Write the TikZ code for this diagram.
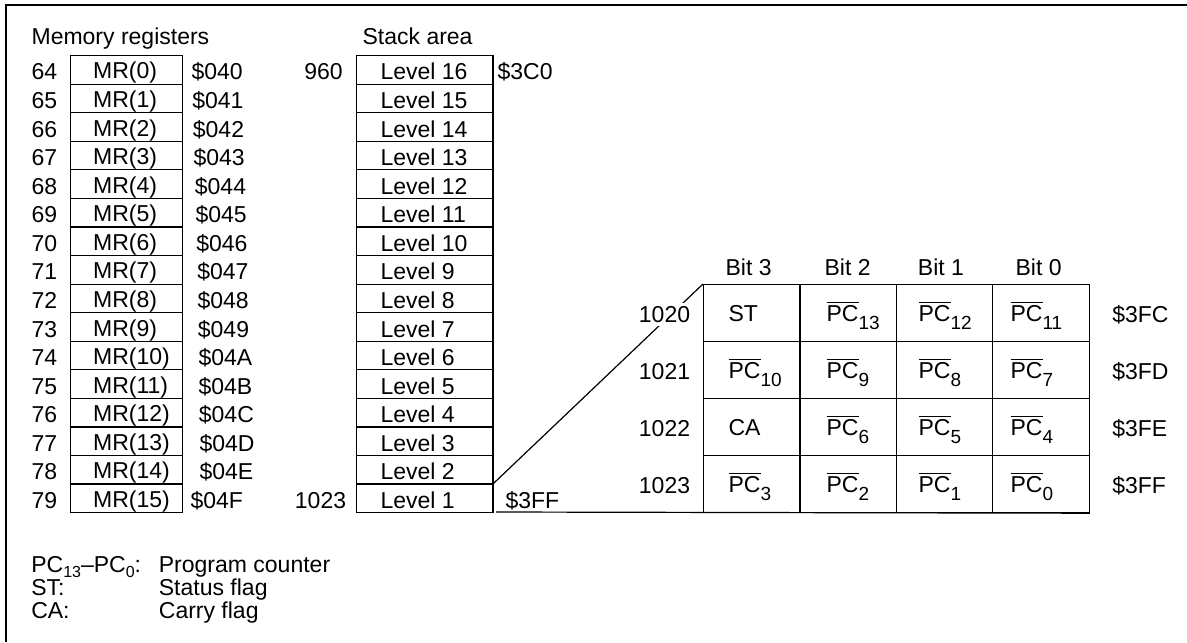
\documentclass[tikz,border=0pt]{standalone}
\usepackage{fontspec}
\setmainfont{Liberation Sans}
\newcommand\pcb[1]{$\overline{\mbox{PC}}$\raisebox{-4pt}{\fontsize{9.5}{10}\selectfont #1}}
\newcommand\lsub[1]{\raisebox{-2.5pt}{\fontsize{8}{9}\selectfont #1}}
\begin{document}
\begin{tikzpicture}[x=0.5pt,y=-0.5pt, line width=0.6pt,
  lbl/.style={inner sep=0pt, anchor=base west, font=\fontsize{11.5}{13}\selectfont},
  lblr/.style={lbl, anchor=base east},
  tlbl/.style={inner sep=0pt, anchor=base west, font=\fontsize{11.5}{13}\selectfont},
  tlblr/.style={tlbl, anchor=base east, fill=white, inner sep=1.5pt},
  rowbox/.style={draw, inner sep=0pt, anchor=north west, minimum height=14.28pt},
  cellbox/.style={draw, inner sep=0pt, anchor=north west, minimum width=48.2pt, minimum height=28.5pt}]
\useasboundingbox (0,0) rectangle (1187,642);
\draw (6,642) -- (6,5) -- (1187,5);

% headers
\node[lbl] (hmr) at (31,45) {Memory registers};
\node[lbl] (hst) at (362,45) {Stack area};

% memory registers
\foreach \i/\h/\hx in {0/0/191,1/1/191.7,2/2/192.3,3/3/193,4/4/194.3,5/5/195,6/6/195.7,7/7/196.7,8/8/197,9/9/197.3,10/A/198,11/B/198,12/C/198.3,13/D/199,14/E/199,15/F/190}{
  \pgfmathsetmacro\t{55+28.5625*\i}
  \pgfmathtruncatemacro\n{64+\i}
  \node[rowbox, minimum width=56pt] (mr\i) at (69.5,\t) {};
  \node[lbl] (mrn\i) at (31,\t+25) {\n};
  \node[lbl] (mrt\i) at (92.5,\t+24) {MR(\i)};
  \node[lbl] (mrh\i) at (\hx,\t+25) {\$04\h};
}

% stack area
\foreach \i in {0,...,15}{
  \pgfmathsetmacro\t{55+28.5625*\i}
  \pgfmathtruncatemacro\l{16-\i}
  \node[rowbox, minimum width=68.3pt] (st\i) at (355.7,\t) {};
  \node[lbl] (stt\i) at (380,\t+25) {Level \l};
}
\node[lblr] (sa960) at (343.3,80) {960};
\node[lbl] (sh3c0) at (497,80) {\$3C0};
\node[lblr] (sa1023) at (346.7,508) {1023};
\node[lbl] (sh3ff) at (505,508) {\$3FF};

% table cells
\foreach \r in {0,...,3}{
  \foreach \c in {0,...,3}{
    \node[cellbox] (c\r\c) at (703+96.4*\c,284+57*\r) {};
  }
}
\node[lbl] (b3) at (725,275) {Bit 3};
\node[lbl] (b2) at (824,275) {Bit 2};
\node[lbl] (b1) at (917.3,275) {Bit 1};
\node[lbl] (b0) at (1015,275) {Bit 0};

% connectors
\draw (st15.north east) -- (c00.north west);
\coordinate (bl) at (496,512);
\draw (bl) -- (c33.south east);

\foreach \r/\a/\h in {0/1020/3FC,1/1021/3FD,2/1022/3FE,3/1023/3FF}{
  \node[tlblr] (ra\r) at (693.7,322.5+57*\r) {\a};
  \node[tlbl] (rh\r) at (1111.7,322+57*\r) {\$\h};
}

\node[tlbl] (t00) at (728,321.7) {ST};
\node[tlbl] (t01) at (826,321.7) {\pcb{13}};
\node[tlbl] (t02) at (918,321.7) {\pcb{12}};
\node[tlbl] (t03) at (1010,321.7) {\pcb{11}};
\node[tlbl] (t10) at (728,378.7) {\pcb{10}};
\node[tlbl] (t11) at (826,378.7) {\pcb{9}};
\node[tlbl] (t12) at (918,378.7) {\pcb{8}};
\node[tlbl] (t13) at (1010,378.7) {\pcb{7}};
\node[tlbl] (t20) at (728,435.7) {CA};
\node[tlbl] (t21) at (826,435.7) {\pcb{6}};
\node[tlbl] (t22) at (918,435.7) {\pcb{5}};
\node[tlbl] (t23) at (1010,435.7) {\pcb{4}};
\node[tlbl] (t30) at (728,492.7) {\pcb{3}};
\node[tlbl] (t31) at (826,492.7) {\pcb{2}};
\node[tlbl] (t32) at (918,492.7) {\pcb{1}};
\node[tlbl] (t33) at (1010,492.7) {\pcb{0}};

% legend
\node[lbl] (lg1) at (30.7,572) {PC\lsub{13}–PC\lsub{0}:};
\node[lbl] (lg1t) at (158.3,572) {Program counter};
\node[lbl] (lg2) at (30.7,595) {ST:};
\node[lbl] (lg2t) at (158.3,595) {Status flag};
\node[lbl] (lg3) at (30.7,618) {CA:};
\node[lbl] (lg3t) at (158.3,618) {Carry flag};
\end{tikzpicture}
\end{document}
